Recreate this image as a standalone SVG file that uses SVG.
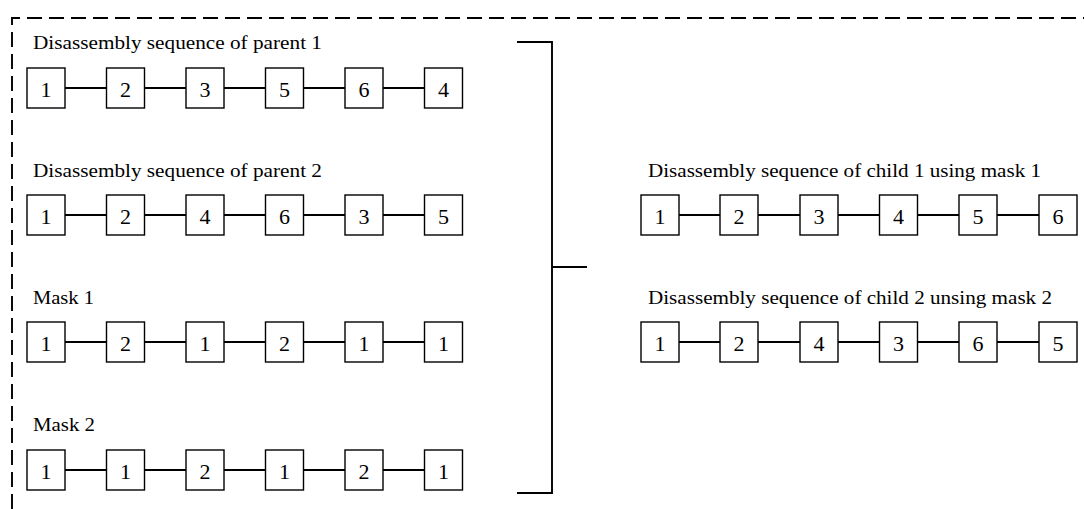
<svg xmlns="http://www.w3.org/2000/svg" width="1084" height="509" viewBox="0 0 1084 509">
<style>
.frame{fill:none;stroke:#000;stroke-width:1.9;stroke-dasharray:15 7}
.box{fill:#fff;stroke:#000;stroke-width:1.4}
.num{font-family:"Liberation Serif",serif;font-size:22px;text-anchor:middle;fill:#000}
.lbl{font-family:"Liberation Serif",serif;font-size:19.5px;fill:#000}
.ln{fill:none;stroke:#000;stroke-width:1.9}
</style>
<rect width="1084" height="509" fill="#fff"/>
<path class="frame" d="M12,509 V18 H1084"/>
<g id="labels">
<text class="lbl" x="33" y="49" textLength="289" lengthAdjust="spacingAndGlyphs">Disassembly sequence of parent 1</text>
<text class="lbl" x="33" y="177" textLength="289" lengthAdjust="spacingAndGlyphs">Disassembly sequence of parent 2</text>
<text class="lbl" x="33" y="304" textLength="61" lengthAdjust="spacingAndGlyphs">Mask 1</text>
<text class="lbl" x="33" y="431" textLength="62" lengthAdjust="spacingAndGlyphs">Mask 2</text>
<text class="lbl" x="648" y="177" textLength="393" lengthAdjust="spacingAndGlyphs">Disassembly sequence of child 1 using mask 1</text>
<text class="lbl" x="648" y="304" textLength="404" lengthAdjust="spacingAndGlyphs">Disassembly sequence of child 2 unsing mask 2</text>
</g>
<g id="connectors">
<path class="ln" d="M65,88 H106.5 M144.5,88 H186 M224,88 H265.5 M303.5,88 H345 M383,88 H424.5"/>
<path class="ln" d="M65,215 H106.5 M144.5,215 H186 M224,215 H265.5 M303.5,215 H345 M383,215 H424.5"/>
<path class="ln" d="M65,342 H106.5 M144.5,342 H186 M224,342 H265.5 M303.5,342 H345 M383,342 H424.5"/>
<path class="ln" d="M65,470 H106.5 M144.5,470 H186 M224,470 H265.5 M303.5,470 H345 M383,470 H424.5"/>
<path class="ln" d="M679,215 H720 M758,215 H800 M838,215 H879.5 M917.5,215 H959 M997,215 H1039"/>
<path class="ln" d="M679,342 H720 M758,342 H800 M838,342 H879.5 M917.5,342 H959 M997,342 H1039"/>
<path class="ln" d="M517,42 H552 V493 H517 M552,267 H587"/>
</g>
<g id="p1">
<rect class="box" x="27" y="68" width="38" height="40"/><text class="num" x="46" y="96.5">1</text>
<rect class="box" x="106.5" y="68" width="38" height="40"/><text class="num" x="125.5" y="96.5">2</text>
<rect class="box" x="186" y="68" width="38" height="40"/><text class="num" x="205" y="96.5">3</text>
<rect class="box" x="265.5" y="68" width="38" height="40"/><text class="num" x="284.5" y="96.5">5</text>
<rect class="box" x="345" y="68" width="38" height="40"/><text class="num" x="364" y="96.5">6</text>
<rect class="box" x="424.5" y="68" width="38" height="40"/><text class="num" x="443.5" y="96.5">4</text>
</g>
<g id="p2">
<rect class="box" x="27" y="195" width="38" height="40"/><text class="num" x="46" y="223.5">1</text>
<rect class="box" x="106.5" y="195" width="38" height="40"/><text class="num" x="125.5" y="223.5">2</text>
<rect class="box" x="186" y="195" width="38" height="40"/><text class="num" x="205" y="223.5">4</text>
<rect class="box" x="265.5" y="195" width="38" height="40"/><text class="num" x="284.5" y="223.5">6</text>
<rect class="box" x="345" y="195" width="38" height="40"/><text class="num" x="364" y="223.5">3</text>
<rect class="box" x="424.5" y="195" width="38" height="40"/><text class="num" x="443.5" y="223.5">5</text>
</g>
<g id="m1">
<rect class="box" x="27" y="322" width="38" height="40"/><text class="num" x="46" y="350.5">1</text>
<rect class="box" x="106.5" y="322" width="38" height="40"/><text class="num" x="125.5" y="350.5">2</text>
<rect class="box" x="186" y="322" width="38" height="40"/><text class="num" x="205" y="350.5">1</text>
<rect class="box" x="265.5" y="322" width="38" height="40"/><text class="num" x="284.5" y="350.5">2</text>
<rect class="box" x="345" y="322" width="38" height="40"/><text class="num" x="364" y="350.5">1</text>
<rect class="box" x="424.5" y="322" width="38" height="40"/><text class="num" x="443.5" y="350.5">1</text>
</g>
<g id="m2">
<rect class="box" x="27" y="450" width="38" height="40"/><text class="num" x="46" y="478.5">1</text>
<rect class="box" x="106.5" y="450" width="38" height="40"/><text class="num" x="125.5" y="478.5">1</text>
<rect class="box" x="186" y="450" width="38" height="40"/><text class="num" x="205" y="478.5">2</text>
<rect class="box" x="265.5" y="450" width="38" height="40"/><text class="num" x="284.5" y="478.5">1</text>
<rect class="box" x="345" y="450" width="38" height="40"/><text class="num" x="364" y="478.5">2</text>
<rect class="box" x="424.5" y="450" width="38" height="40"/><text class="num" x="443.5" y="478.5">1</text>
</g>
<g id="c1">
<rect class="box" x="641" y="195" width="38" height="40"/><text class="num" x="660" y="223.5">1</text>
<rect class="box" x="720" y="195" width="38" height="40"/><text class="num" x="739" y="223.5">2</text>
<rect class="box" x="800" y="195" width="38" height="40"/><text class="num" x="819" y="223.5">3</text>
<rect class="box" x="879.5" y="195" width="38" height="40"/><text class="num" x="898.5" y="223.5">4</text>
<rect class="box" x="959" y="195" width="38" height="40"/><text class="num" x="978" y="223.5">5</text>
<rect class="box" x="1039" y="195" width="38" height="40"/><text class="num" x="1058" y="223.5">6</text>
</g>
<g id="c2">
<rect class="box" x="641" y="322" width="38" height="40"/><text class="num" x="660" y="350.5">1</text>
<rect class="box" x="720" y="322" width="38" height="40"/><text class="num" x="739" y="350.5">2</text>
<rect class="box" x="800" y="322" width="38" height="40"/><text class="num" x="819" y="350.5">4</text>
<rect class="box" x="879.5" y="322" width="38" height="40"/><text class="num" x="898.5" y="350.5">3</text>
<rect class="box" x="959" y="322" width="38" height="40"/><text class="num" x="978" y="350.5">6</text>
<rect class="box" x="1039" y="322" width="38" height="40"/><text class="num" x="1058" y="350.5">5</text>
</g>
</svg>
